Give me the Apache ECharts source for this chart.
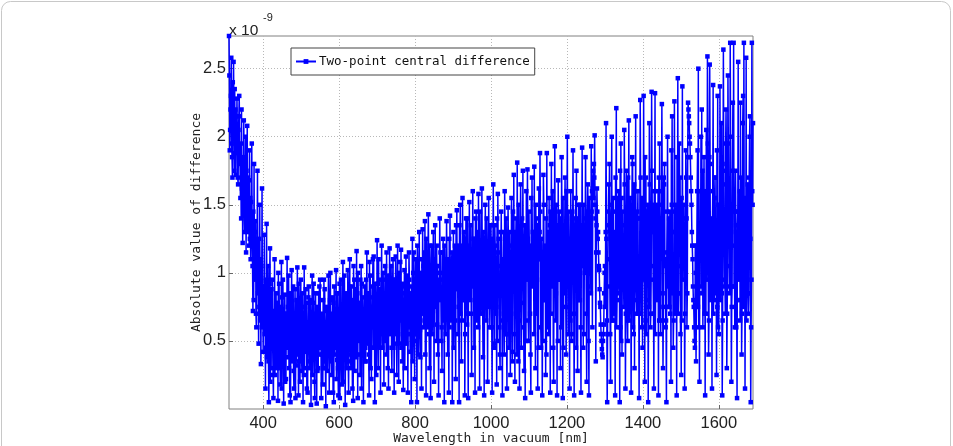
<!DOCTYPE html>
<html>
<head>
<meta charset="utf-8">
<script src="https://cdn.jsdelivr.net/npm/echarts@6/dist/echarts.min.js"></script>
<style>
  html, body { margin: 0; padding: 0; background: #fff; }
  #chart { width: 953px; height: 446px; }
</style>
</head>
<body>
<div id="chart"></div>
<script>
// wavelength sampling (nm): A at 310+3i, B at 311+3i, C at 312+3i
const wlStart = 310;
const wlStep = 3;

// |difference| values, units of 1e-9, one row per 30 nm
const diffValuesA = [
  2.74, 2.05, 2.58, 1.70, 2.55, 2.35, 1.72, 2.28, 1.65, 2.30,
  1.55, 2.20, 1.22, 2.12, 1.85, 1.15, 2.08, 1.40, 1.90, 1.10,
  1.95, 0.72, 1.80, 1.20, 0.60, 1.75, 0.48, 1.50, 0.33, 1.62,
  0.42, 1.28, 0.15, 1.36, 0.62, 0.05, 1.18, 0.30, 0.95, 0.08,
  1.10, 0.45, 0.70, 0.06, 0.92, 0.18, 1.08, 0.55, 0.04, 0.84,
  0.22, 1.11, 0.38, 0.72, 0.05, 1.02, 0.60, 0.15, 0.88, 0.32,
  1.04, 0.10, 0.66, 0.95, 0.28, 0.05, 1.04, 0.42, 0.78, 0.12,
  0.90, 0.35, 0.03, 0.98, 0.55, 0.20, 0.85, 0.04, 0.70, 0.40,
  0.95, 0.08, 0.62, 0.30, 0.88, 0.02, 0.75, 0.48, 0.12, 1.00,
  0.25, 0.82, 0.05, 0.68, 1.02, 0.36, 0.10, 0.92, 0.50, 0.18,
  1.08, 0.40, 0.03, 0.85, 0.62, 0.12, 1.10, 0.30, 0.78, 0.06,
  0.95, 0.52, 1.16, 0.08, 0.70, 0.25, 1.05, 0.45, 0.05, 0.90,
  0.35, 1.15, 0.60, 0.10, 0.98, 0.22, 0.82, 1.12, 0.05, 0.66,
  1.24, 0.30, 0.88, 0.12, 1.20, 0.55, 0.18, 1.05, 0.40, 0.95,
  0.15, 1.18, 0.62, 0.28, 1.10, 0.12, 0.85, 0.48, 1.20, 0.20,
  0.75, 1.17, 0.35, 0.14, 1.02, 0.58, 0.90, 0.12, 1.15, 0.42,
  0.05, 1.25, 0.68, 0.22, 1.10, 0.05, 0.95, 1.30, 0.38, 0.15,
  1.32, 0.60, 1.38, 0.10, 0.88, 1.43, 0.30, 0.08, 1.20, 0.72,
  0.20, 1.35, 0.50, 1.05, 0.10, 1.40, 0.82, 0.28, 1.25, 0.05,
  0.95, 1.38, 0.40, 0.12, 1.42, 0.65, 0.05, 1.30, 0.90, 0.22,
  1.46, 0.55, 0.05, 1.50, 0.35, 1.55, 0.80, 0.10, 1.40, 0.62,
  0.08, 1.52, 1.00, 0.25, 1.60, 0.45, 0.12, 1.45, 0.75, 1.58,
  0.15, 1.20, 1.62, 0.38, 0.10, 1.50, 0.85, 0.20, 1.55, 0.60,
  1.35, 0.12, 1.65, 0.48, 1.10, 0.18, 1.58, 0.90, 0.30, 1.45,
  0.10, 1.30, 1.60, 0.55, 0.15, 1.48, 0.95, 0.25, 1.55, 0.42,
  1.72, 0.20, 1.40, 1.81, 0.35, 0.15, 1.65, 0.78, 1.75, 0.28,
  0.08, 1.60, 1.76, 0.50, 1.20, 0.12, 1.70, 0.92, 1.78, 0.30,
  1.40, 0.15, 1.62, 1.88, 0.45, 0.10, 1.72, 1.05, 0.25, 1.88,
  0.60, 1.55, 0.12, 1.80, 1.30, 0.20, 1.93, 0.85, 0.10, 1.68,
  1.45, 0.30, 1.85, 0.08, 1.20, 1.70, 0.40, 2.00, 0.95, 0.15,
  1.60, 0.55, 1.90, 0.10, 1.35, 1.75, 0.28, 1.50, 0.80, 0.12,
  1.92, 0.45, 1.30, 1.85, 0.20, 1.65, 0.10, 1.40, 1.93, 0.60,
  1.55, 2.01, 0.35, 1.62, 1.30, 1.02, 0.75, 0.50, 0.38, 0.62,
  1.05, 2.10, 0.05, 1.45, 1.80, 0.20, 2.00, 0.65, 1.30, 0.10,
  2.21, 0.90, 1.60, 0.05, 1.95, 0.40, 1.20, 2.05, 0.15, 1.75,
  0.50, 2.12, 1.00, 0.12, 1.85, 1.40, 0.30, 2.15, 0.70, 1.60,
  0.08, 2.27, 1.25, 0.45, 2.30, 0.20, 1.70, 1.05, 0.05, 2.10,
  0.60, 2.33, 1.50, 0.15, 2.32, 0.90, 1.20, 0.10, 1.95, 0.55,
  2.24, 0.30, 1.65, 1.10, 0.05, 2.00, 0.75, 1.45, 0.20, 2.15,
  0.45, 2.26, 1.30, 0.10, 2.43, 0.85, 1.70, 0.25, 2.37, 1.05,
  0.15, 1.90, 0.60, 2.25, 2.10, 1.85, 1.50, 1.10, 0.75, 0.45,
  0.35, 1.60, 2.50, 0.20, 1.25, 2.20, 0.60, 1.85, 0.10, 2.05,
  2.59, 0.40, 2.53, 1.15, 0.15, 2.38, 0.80, 1.70, 0.25, 2.30,
  0.55, 2.37, 1.40, 0.10, 2.64, 0.90, 1.95, 0.30, 2.45, 1.20,
  2.69, 0.20, 1.75, 2.69, 0.60, 1.30, 0.08, 2.55, 1.05, 2.25,
  0.40, 2.10, 2.69, 0.15, 2.58, 1.50, 0.70, 2.00, 0.05, 2.69,
  2.10
];

const diffValuesB = [
  2.45, 2.20, 1.95, 2.40, 2.10, 1.88, 2.15, 1.98, 2.05, 1.80,
  1.95, 1.62, 1.80, 1.45, 1.60, 1.75, 1.30, 1.68, 1.25, 1.52,
  1.20, 1.45, 0.95, 1.38, 1.10, 0.85, 1.25, 0.65, 1.05, 0.90,
  0.85, 0.55, 0.95, 0.38, 1.05, 0.65, 0.20, 0.88, 0.48, 0.72,
  0.25, 0.85, 0.40, 1.00, 0.30, 0.75, 0.15, 0.95, 0.58, 0.20,
  0.70, 0.45, 0.98, 0.10, 0.62, 0.35, 0.90, 0.55, 0.08, 0.80,
  0.40, 0.92, 0.20, 0.55, 0.85, 0.65, 0.30, 0.88, 0.15, 0.60,
  0.52, 0.80, 0.65, 0.25, 0.92, 0.08, 0.48, 0.75, 0.30, 0.90,
  0.45, 0.70, 0.18, 0.95, 0.35, 0.60, 0.28, 0.98, 0.65, 0.38,
  0.70, 0.12, 0.90, 0.45, 0.22, 0.85, 0.60, 0.08, 0.95, 0.75,
  0.20, 0.98, 0.55, 0.30, 1.02, 0.65, 0.45, 0.90, 0.15, 1.05,
  0.28, 0.88, 0.40, 1.00, 0.50, 0.95, 0.15, 0.82, 0.62, 0.35,
  0.95, 0.48, 0.85, 1.08, 0.30, 0.70, 1.10, 0.45, 0.92, 0.25,
  0.75, 1.10, 0.45, 0.95, 0.65, 1.00, 0.82, 0.50, 1.15, 0.30,
  0.98, 0.55, 1.05, 0.85, 0.45, 0.95, 1.12, 0.25, 0.70, 1.00,
  1.08, 0.45, 0.92, 0.80, 0.30, 1.12, 0.55, 0.65, 0.95, 0.85,
  0.90, 0.35, 1.15, 0.85, 0.55, 1.20, 0.40, 0.75, 1.00, 1.10,
  0.90, 1.15, 0.40, 1.25, 0.60, 1.05, 1.20, 0.75, 0.55, 1.30,
  1.10, 0.80, 1.20, 0.40, 0.95, 1.00, 0.50, 1.15, 0.65, 1.20,
  0.55, 1.10, 0.90, 1.25, 0.75, 1.05, 0.95, 0.45, 1.20, 1.35,
  0.90, 1.20, 1.35, 0.70, 1.15, 1.05, 1.30, 0.55, 1.00, 1.40,
  1.20, 0.80, 1.35, 1.10, 0.90, 1.25, 1.40, 0.65, 1.30, 1.00,
  1.45, 0.70, 1.10, 1.30, 0.85, 1.20, 1.40, 1.00, 0.75, 1.35,
  0.80, 1.25, 1.05, 1.35, 0.70, 1.40, 1.15, 0.60, 1.30, 1.00,
  1.10, 0.70, 1.25, 1.40, 0.85, 1.10, 1.30, 0.65, 1.20, 1.45,
  1.05, 1.30, 0.85, 1.15, 1.50, 1.00, 1.25, 1.40, 0.90, 1.20,
  1.35, 0.95, 1.25, 1.45, 0.70, 1.55, 1.10, 1.30, 1.00, 1.50,
  0.95, 1.35, 1.10, 1.45, 1.25, 0.80, 1.50, 1.20, 1.40, 1.05,
  1.30, 1.10, 1.45, 0.90, 1.60, 1.25, 1.05, 1.50, 1.35, 1.15,
  0.95, 1.40, 1.20, 1.55, 0.85, 1.30, 1.60, 1.10, 1.45, 1.25,
  1.10, 1.45, 1.05, 1.30, 1.55, 0.95, 1.40, 1.20, 1.50, 1.35,
  1.25, 1.50, 1.00, 1.40, 1.35, 0.90, 1.55, 1.20, 1.45, 1.62,
  1.80, 1.50, 1.15, 1.45, 1.15, 0.88, 0.62, 0.44, 0.50, 0.85,
  0.75, 1.25, 0.55, 1.65, 0.90, 1.40, 0.65, 1.55, 0.80, 1.70,
  0.60, 1.55, 0.85, 1.75, 0.50, 1.45, 0.95, 1.65, 0.70, 1.30,
  1.70, 0.65, 1.55, 0.80, 1.80, 0.55, 1.60, 0.90, 1.45, 0.70,
  0.85, 1.70, 0.60, 1.35, 0.95, 1.85, 0.55, 1.45, 0.80, 1.65,
  0.70, 1.75, 0.95, 1.60, 0.55, 1.50, 0.85, 1.70, 0.65, 1.35,
  1.60, 0.75, 1.80, 0.60, 1.15, 0.90, 1.40, 0.70, 1.90, 0.85,
  0.65, 1.45, 0.90, 1.85, 0.70, 1.95, 0.55, 1.55, 0.95, 1.50,
  0.70, 1.70, 0.85, 2.20, 2.00, 1.70, 1.30, 0.90, 0.60, 1.20,
  0.75, 1.90, 0.60, 1.25, 2.00, 0.85, 1.40, 0.70, 1.60, 0.95,
  1.95, 0.65, 1.80, 0.90, 1.35, 0.70, 1.55, 0.85, 1.90, 0.60,
  1.45, 0.80, 2.10, 0.65, 1.75, 0.95, 2.20, 0.70, 1.95, 0.85,
  2.00, 0.75, 2.25, 0.90, 1.45, 0.60, 1.35, 0.95, 1.60, 0.80,
  0.70, 2.30, 0.95, 1.20, 0.65, 1.65, 0.85, 2.15, 0.60, 1.60
];

const diffValuesC = [
  1.90, 2.30, 1.85, 2.10, 1.75, 2.20, 1.95, 1.70, 2.15, 1.85,
  1.40, 1.85, 1.55, 1.30, 2.00, 1.45, 1.70, 1.20, 1.55, 1.35,
  1.05, 0.80, 1.30, 0.70, 1.15, 0.95, 0.75, 1.10, 0.60, 0.85,
  0.70, 0.90, 0.45, 0.78, 0.35, 0.92, 0.55, 0.68, 0.25, 0.60,
  0.62, 0.30, 0.78, 0.50, 0.65, 0.40, 0.82, 0.35, 0.70, 0.52,
  0.48, 0.75, 0.30, 0.85, 0.45, 0.70, 0.28, 0.65, 0.50, 0.60,
  0.72, 0.35, 0.80, 0.40, 0.62, 0.25, 0.75, 0.55, 0.45, 0.82,
  0.30, 0.65, 0.45, 0.78, 0.38, 0.60, 0.70, 0.28, 0.85, 0.50,
  0.65, 0.40, 0.80, 0.55, 0.30, 0.72, 0.48, 0.62, 0.80, 0.35,
  0.55, 0.78, 0.40, 0.62, 0.85, 0.30, 0.70, 0.50, 0.40, 0.65,
  0.75, 0.45, 0.82, 0.60, 0.35, 0.90, 0.40, 0.70, 0.55, 0.80,
  0.62, 0.38, 0.85, 0.55, 0.78, 0.40, 0.92, 0.50, 0.70, 0.45,
  0.58, 0.85, 0.40, 0.75, 0.60, 0.90, 0.45, 0.68, 0.80, 0.50,
  0.92, 0.50, 0.70, 0.85, 0.45, 0.78, 0.60, 0.95, 0.55, 0.72,
  0.60, 0.85, 0.45, 0.95, 0.70, 0.55, 0.88, 0.62, 0.92, 0.48,
  0.65, 0.90, 0.55, 0.72, 0.85, 0.48, 0.98, 0.60, 0.75, 0.55,
  0.70, 1.00, 0.50, 0.92, 0.65, 1.05, 0.75, 0.58, 0.88, 0.70,
  1.05, 0.65, 0.95, 0.75, 1.10, 0.55, 0.85, 1.00, 0.68, 0.92,
  0.75, 1.05, 0.62, 0.90, 0.80, 1.15, 0.60, 0.95, 0.85, 0.70,
  0.98, 0.70, 1.10, 0.60, 0.92, 1.15, 0.72, 1.00, 0.65, 0.88,
  1.10, 0.75, 0.95, 1.20, 0.65, 0.90, 1.25, 0.80, 1.05, 0.70,
  0.95, 1.15, 0.70, 1.05, 1.25, 0.80, 0.95, 1.10, 0.60, 1.20,
  0.85, 1.05, 0.75, 1.25, 0.95, 0.65, 1.15, 0.80, 1.05, 0.90,
  0.60, 1.10, 0.45, 1.20, 0.75, 0.50, 1.25, 0.40, 1.05, 0.65,
  0.85, 0.40, 1.15, 0.55, 1.25, 0.45, 1.05, 0.70, 0.35, 1.00,
  0.55, 1.20, 0.40, 1.10, 0.65, 1.30, 0.45, 1.00, 0.60, 1.35,
  0.50, 1.25, 0.65, 1.15, 0.40, 0.90, 1.30, 0.55, 1.20, 0.70,
  1.15, 0.45, 1.30, 0.60, 1.10, 0.50, 0.80, 1.05, 0.40, 0.90,
  0.55, 1.35, 0.70, 1.20, 0.45, 1.40, 0.65, 1.15, 0.50, 0.95,
  1.20, 0.60, 1.35, 0.45, 1.25, 0.75, 1.40, 0.55, 1.15, 0.65,
  0.50, 1.25, 0.70, 1.40, 0.45, 1.15, 0.80, 1.30, 0.60, 1.05,
  1.35, 0.55, 1.25, 0.70, 1.45, 0.50, 1.30, 0.85, 1.60, 1.75,
  1.70, 1.40, 1.35, 1.25, 1.05, 0.78, 0.55, 0.40, 0.55, 1.00,
  1.30, 0.65, 1.10, 1.35, 0.55, 1.50, 0.95, 0.70, 1.20, 1.45,
  0.80, 1.20, 1.45, 0.60, 1.55, 1.05, 0.75, 1.35, 1.25, 0.65,
  1.30, 0.75, 1.25, 1.45, 0.60, 1.65, 1.15, 0.80, 1.40, 1.00,
  1.40, 0.70, 1.55, 1.05, 1.20, 0.65, 1.35, 1.50, 0.75, 1.30,
  1.05, 1.30, 0.70, 1.40, 1.20, 0.80, 1.60, 0.65, 1.25, 1.50,
  0.85, 1.70, 1.05, 0.65, 1.45, 1.15, 0.75, 1.35, 1.50, 0.90,
  1.30, 0.70, 1.50, 1.20, 0.85, 1.35, 1.05, 0.65, 1.40, 1.15,
  1.05, 1.40, 1.85, 2.15, 1.95, 1.60, 1.20, 0.80, 0.50, 1.00,
  1.20, 0.75, 1.60, 1.35, 0.90, 1.75, 1.05, 1.45, 0.70, 1.30,
  1.05, 1.85, 0.80, 1.40, 1.60, 0.95, 1.70, 1.20, 0.75, 1.50,
  1.15, 1.50, 0.85, 1.65, 1.30, 0.70, 1.80, 1.05, 1.40, 0.90,
  1.35, 0.90, 1.50, 1.20, 1.75, 0.80, 1.45, 1.10, 0.65, 1.70,
  1.20, 0.75, 1.55, 1.05, 1.40, 0.85, 1.70, 1.25, 0.95, 1.50
];

const xTicks = [400, 600, 800, 1000, 1200, 1400, 1600];
const yTicks = [0.5, 1, 1.5, 2, 2.5];

const seriesName = 'Two-point central difference';

// merge the three sample sets in wavelength order
const points = [];
diffValuesA.forEach((v, i) => {
  const wl = wlStart + i * wlStep;
  points.push([wl, v]);
  if (i < diffValuesB.length) points.push([wl + 1, diffValuesB[i]]);
  if (i < diffValuesC.length) points.push([wl + 2, diffValuesC[i]]);
});

const chart = echarts.init(document.getElementById('chart'));
const labelFont = '"Liberation Sans", Arial, sans-serif';
const textFont = '"DejaVu Sans Mono", monospace';

chart.setOption({
  animation: false,
  backgroundColor: '#fff',
  grid: {
    left: 229, right: 200, top: 36, bottom: 37,
    outerBoundsMode: 'none',
    containLabel: false,
    show: true, borderColor: '#808080', borderWidth: 1
  },
  legend: {
    left: 291, top: 48,
    data: [seriesName],
    backgroundColor: '#fff',
    borderColor: '#444',
    borderWidth: 1,
    borderRadius: 0,
    padding: [7, 5, 7, 4],
    itemWidth: 20, itemHeight: 6, itemGap: 2,
    textStyle: { fontFamily: textFont, fontSize: 12.5, color: '#111', padding: [0, 0, 0, -2] }
  },
  xAxis: {
    type: 'value',
    min: 310, max: 1690,
    name: 'Wavelength in vacuum [nm]',
    nameLocation: 'middle',
    nameGap: 23,
    nameMoveOverlap: false,
    nameTextStyle: { fontFamily: textFont, fontSize: 13, color: '#222' },
    axisLine: { show: false },
    axisTick: { show: true, inside: true, length: 4, customValues: xTicks, lineStyle: { color: '#666' } },
    axisLabel: {
      customValues: xTicks, fontFamily: labelFont, fontSize: 16.5, color: '#222', margin: 6,
      formatter: v => String(v)
    },
    splitLine: { show: true, lineStyle: { color: '#b8b8b8', type: [1, 2], width: 1 } }
  },
  yAxis: {
    type: 'value',
    min: 0, max: 2.74,
    name: 'Absolute value of difference',
    nameLocation: 'middle',
    nameGap: 26,
    nameMoveOverlap: false,
    nameTextStyle: { fontFamily: textFont, fontSize: 13, color: '#222' },
    axisLine: { show: false },
    axisTick: { show: true, inside: true, length: 4, customValues: yTicks, lineStyle: { color: '#666' } },
    axisLabel: { customValues: yTicks, fontFamily: labelFont, fontSize: 16.5, color: '#222', margin: 3 },
    splitLine: { show: true, lineStyle: { color: '#b8b8b8', type: [1, 2], width: 1 } }
  },
  series: [{
    name: seriesName,
    type: 'line',
    data: points,
    symbol: 'rect',
    symbolSize: 4.5,
    showSymbol: true,
    sampling: null,
    clip: true,
    itemStyle: { color: '#0000ff' },
    lineStyle: { color: '#0000ff', width: 1.5 }
  }],
  graphic: [
    {
      type: 'rect',
      shape: { x: 1.5, y: 1.5, width: 949, height: 470, r: 9 },
      style: { fill: null, stroke: '#c8c8c8', lineWidth: 1 },
      silent: true
    },
    {
      type: 'text', left: 229, top: 23,
      style: { text: 'x 10', font: '15.5px "Liberation Sans", Arial, sans-serif', fill: '#222' }
    },
    {
      type: 'text', left: 263, top: 12,
      style: { text: '-9', font: '11px "Liberation Sans", Arial, sans-serif', fill: '#222' }
    }
  ]
});
</script>
</body>
</html>
